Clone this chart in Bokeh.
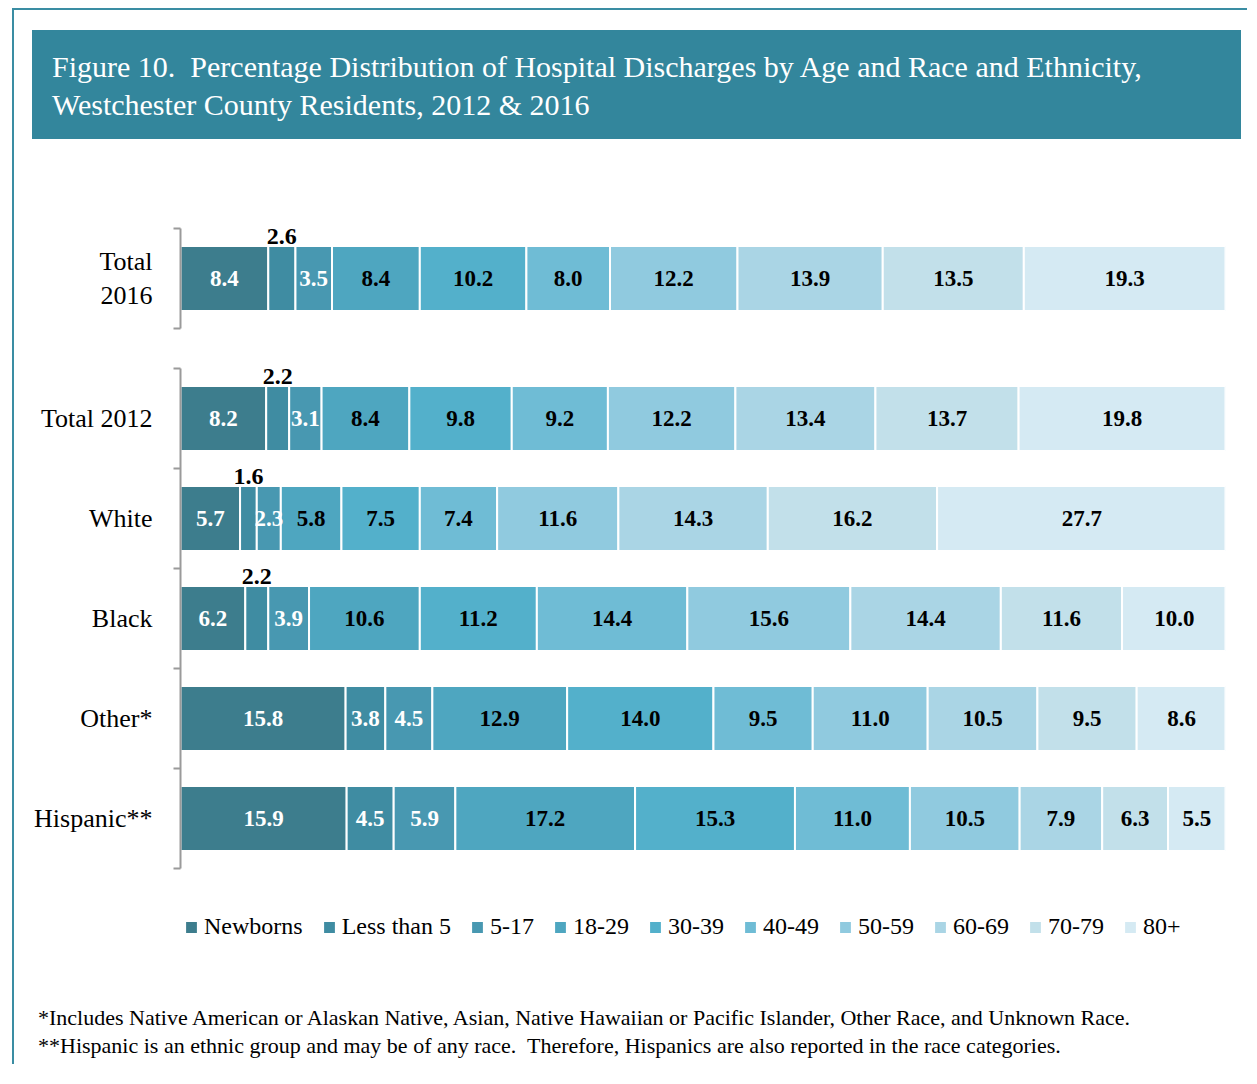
from bokeh.plotting import figure
from bokeh.models import Range1d, FixedTicker, ColumnDataSource, Legend, LegendItem, Div
from bokeh.layouts import column
from bokeh.embed import file_html
from bokeh.resources import INLINE
from bokeh.core.properties import value

# ---------------- data ----------------
age_groups = ["Newborns", "Less than 5", "5-17", "18-29", "30-39", "40-49",
              "50-59", "60-69", "70-79", "80+"]
colors = ["#3d7d8d", "#3f8ca2", "#4898b1", "#4ea6c0", "#53b0cb", "#6fbcd5",
          "#90cadf", "#aad5e5", "#c2e0ea", "#d5eaf3"]
label_colors = ["white", "white", "white", "black", "black", "black",
                "black", "black", "black", "black"]

total_2016 = [8.4, 2.6, 3.5, 8.4, 10.2, 8.0, 12.2, 13.9, 13.5, 19.3]
total_2012 = [8.2, 2.2, 3.1, 8.4, 9.8, 9.2, 12.2, 13.4, 13.7, 19.8]
white = [5.7, 1.6, 2.3, 5.8, 7.5, 7.4, 11.6, 14.3, 16.2, 27.7]
black = [6.2, 2.2, 3.9, 10.6, 11.2, 14.4, 15.6, 14.4, 11.6, 10.0]
other = [15.8, 3.8, 4.5, 12.9, 14.0, 9.5, 11.0, 10.5, 9.5, 8.6]
hispanic = [15.9, 4.5, 5.9, 17.2, 15.3, 11.0, 10.5, 7.9, 6.3, 5.5]

top_rows = ["Total\n2016"]
top_values = [total_2016]
bottom_rows = ["Hispanic**", "Other*", "Black", "White", "Total 2012"]  # bottom -> top
bottom_values = [hispanic, other, black, white, total_2012]

title_lines = ["Figure 10.&nbsp; Percentage Distribution of Hospital Discharges by Age and Race and Ethnicity,",
               "Westchester County Residents, 2012 &amp; 2016"]
footnotes = ["*Includes Native American or Alaskan Native, Asian, Native Hawaiian or Pacific Islander, Other Race, and Unknown Race.",
             "**Hispanic is an ethnic group and may be of any race.&nbsp; Therefore, Hispanics are also reported in the race categories."]

TEAL = "#33869c"
FRAME_TEAL = "#3a8da3"
SERIF = "Liberation Serif"
FULL_W = 1233
LEFT_B = 166
FRAME_W = 1045
BAR_H = 0.65


def make_chart(rows, values, height, top, bottom, y_start=0.0):
    n = len(rows)
    p = figure(width=FULL_W, height=height, x_range=Range1d(0, 100),
               y_range=Range1d(y_start, n), output_backend="svg", toolbar_location=None,
               min_border_left=LEFT_B, min_border_right=FULL_W - LEFT_B - FRAME_W,
               min_border_top=top, min_border_bottom=bottom,
               outline_line_color=None)
    p.xaxis.visible = False
    p.xgrid.visible = False
    p.ygrid.visible = False

    ins = dict(x=[], y=[], text=[], tc=[])
    abv = dict(x=[], y=[], text=[])
    renderers = []
    cums = [0.0] * n
    for j, g in enumerate(age_groups):
        seg = dict(y=[], left=[], right=[])
        for i, vals in enumerate(values):
            v = vals[j]
            yc = i + 0.5
            seg["y"].append(yc)
            seg["left"].append(cums[i])
            seg["right"].append(cums[i] + v)
            mid = cums[i] + v / 2
            if j == 1 and v < 3:
                abv["x"].append(mid)
                abv["y"].append(yc + BAR_H / 2)
                abv["text"].append(f"{v:.1f}")
            else:
                ins["x"].append(mid)
                ins["y"].append(yc)
                ins["text"].append(f"{v:.1f}")
                ins["tc"].append(label_colors[j])
            cums[i] += v
        r = p.hbar(y="y", left="left", right="right", height=BAR_H,
                   fill_color=colors[j], line_color="white", line_width=2,
                   source=ColumnDataSource(seg))
        renderers.append(r)

    p.text(x="x", y="y", text="text", text_color="tc", text_align="center",
           text_baseline="middle", text_font=value(SERIF), text_font_size="23px",
           text_font_style="bold", source=ColumnDataSource(ins))
    p.text(x="x", y="y", text="text", text_color="black", text_align="center",
           text_baseline="bottom", y_offset=-2, text_font=value(SERIF),
           text_font_size="24px", text_font_style="bold", source=ColumnDataSource(abv))

    ax = p.yaxis[0]
    centers = [i + 0.5 for i in range(n)]
    ax.ticker = FixedTicker(ticks=centers, minor_ticks=list(range(n + 1)))
    ax.bounds = (0, n)
    ax.major_label_overrides = {c: r for c, r in zip(centers, rows)}
    ax.axis_line_color = "#9a9a9a"
    ax.axis_line_width = 2
    ax.major_tick_line_color = None
    ax.major_tick_out = 0
    ax.major_tick_in = 0
    ax.minor_tick_line_color = "#9a9a9a"
    ax.minor_tick_line_width = 2
    ax.minor_tick_out = 7
    ax.minor_tick_in = 0
    ax.major_label_standoff = 21
    ax.major_label_text_font = SERIF
    ax.major_label_text_font_size = "26px"
    ax.major_label_text_color = "black"
    return p, renderers


# ---------------- banner ----------------
banner = Div(
    text=(f'<div style="box-sizing:border-box;width:1209px;height:109px;background:{TEAL};'
          f'color:white;font-family:\'{SERIF}\';font-size:30px;line-height:38px;'
          f'padding:18px 0 0 20px;white-space:nowrap;">'
          + "<br>".join(title_lines) + '</div>'),
    width=1209, height=109, margin=(20, 0, 0, 18))

top_chart, _ = make_chart(top_rows, top_values, 209, 89, 20)
# the bottom chart's frame extends below the bars to hold the legend
bottom_chart, rends = make_chart(bottom_rows, bottom_values, 604, 20, 12, y_start=-0.72)

legend = Legend(items=[LegendItem(label=g, renderers=[r]) for g, r in zip(age_groups, rends)],
                orientation="horizontal", location=(3, 0),
                border_line_color=None, background_fill_alpha=0, padding=0, margin=0,
                glyph_width=16, glyph_height=16, label_standoff=5, spacing=18,
                label_text_font=SERIF, label_text_font_size="24px",
                label_text_color="black", label_height=20)
bottom_chart.add_layout(legend, "center")

# ---------------- footnotes ----------------
foot = Div(
    text=(f'<div style="font-family:\'{SERIF}\';font-size:22px;line-height:28px;'
          f'color:black;white-space:nowrap;">' + "<br>".join(footnotes) + '</div>'),
    width=1200, height=60, margin=(52, 0, 0, 24))

layout = column(banner, top_chart, bottom_chart, foot, spacing=0,
                margin=(8, 0, 0, 12),
                styles={"border-top": f"2px solid {FRAME_TEAL}",
                        "border-left": f"2px solid {FRAME_TEAL}"})

open("out.html", "w").write(file_html(layout, INLINE))
